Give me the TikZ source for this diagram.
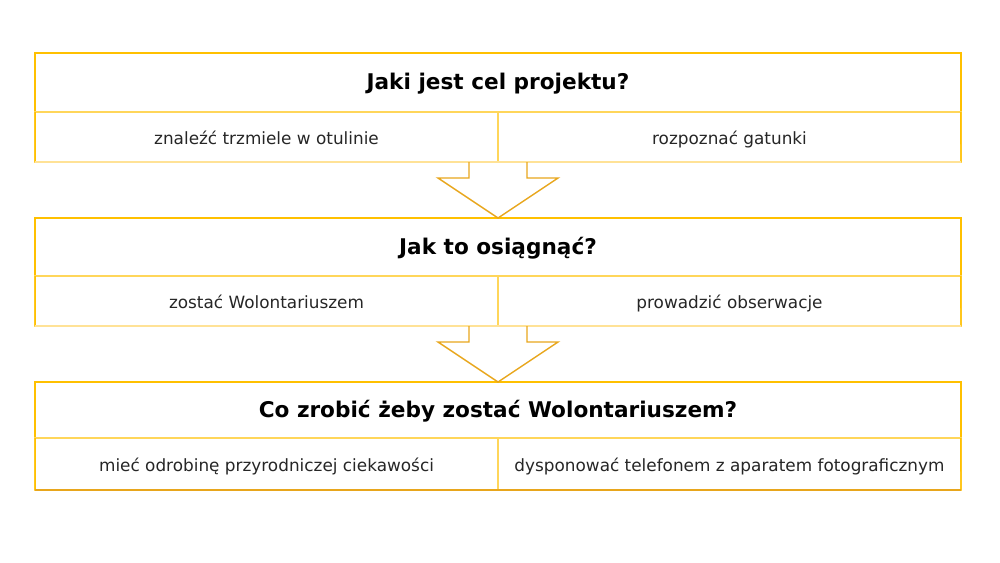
\documentclass[tikz,border=0pt]{standalone}
\usepackage{fontspec}
\setmainfont{DejaVu Sans}
\definecolor{gold}{RGB}{255,192,0}
\definecolor{goldlight}{RGB}{255,214,90}
\definecolor{goldpale}{RGB}{255,226,150}
\definecolor{golddark}{RGB}{232,166,28}
\begin{document}
\begin{tikzpicture}[x=0.02cm,y=-0.02cm,
  hdr/.style={draw=gold,line width=0.8pt,rectangle,minimum width=18.52cm,inner sep=0pt,outer sep=0pt,text height=0.9em,text depth=0.06em,font=\bfseries\fontsize{12.3}{15}\selectfont,text=black},
  cellbox/.style={draw=goldlight,line width=0.8pt,rectangle,minimum width=9.26cm,inner sep=0pt,outer sep=0pt,text height=0.9em,text depth=0.06em,font=\fontsize{9.6}{12}\selectfont,text=black!85},
  downarrow/.style={draw=golddark,line width=0.8pt,line join=miter}]
\useasboundingbox[fill=white] (0,0) rectangle (1000,562);
% box 1
\node[hdr,minimum height=1.18cm] (h1) at (498,82.5) {Jaki jest cel projektu?};
\node[cellbox,minimum height=1cm] (a1) at (266.5,137) {znaleźć trzmiele w otulinie};
\node[cellbox,minimum height=1cm] (b1) at (729.5,137) {rozpoznać gatunki};
% box 2
\node[hdr,minimum height=1.16cm] (h2) at (498,247) {Jak to osiągnąć?};
\node[cellbox,minimum height=1cm] (a2) at (266.5,301) {zostać Wolontariuszem};
\node[cellbox,minimum height=1cm] (b2) at (729.5,301) {prowadzić obserwacje};
% box 3
\node[hdr,minimum height=1.12cm] (h3) at (498,410) {Co zrobić żeby zostać Wolontariuszem?};
\node[cellbox,minimum height=1.04cm] (a3) at (266.5,464) {mieć odrobinę przyrodniczej ciekawości};
\node[cellbox,minimum height=1.04cm] (b3) at (729.5,464) {dysponować telefonem z aparatem fotograficznym};
% outer frames
\draw[gold,line width=0.8pt] (h1.south west) -- (a1.south west);
\draw[gold,line width=0.8pt] (h1.south east) -- (b1.south east);
\draw[goldpale,line width=0.8pt] (a1.south west) -- (b1.south east);
\draw[gold,line width=0.8pt] (h2.south west) -- (a2.south west);
\draw[gold,line width=0.8pt] (h2.south east) -- (b2.south east);
\draw[goldpale,line width=0.8pt] (a2.south west) -- (b2.south east);
\draw[gold,line width=0.8pt] (h3.south west) -- (a3.south west);
\draw[gold,line width=0.8pt] (h3.south east) -- (b3.south east);
\draw[golddark,line width=1pt] (a3.south west) -- (b3.south east);
% arrows
\draw[downarrow] (469,162) -- (469,178) -- (438,178) -- (498,218) -- (558,178) -- (527,178) -- (527,162);
\draw[downarrow] (469,326) -- (469,342) -- (438,342) -- (498,382) -- (558,342) -- (527,342) -- (527,326);
\end{tikzpicture}
\end{document}
